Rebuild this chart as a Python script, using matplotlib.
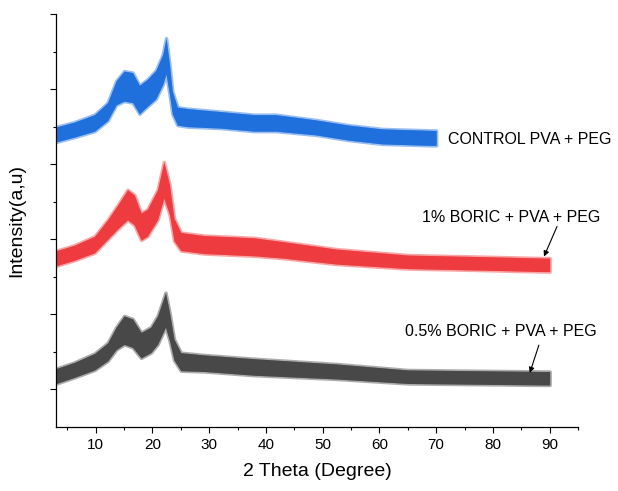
import matplotlib
matplotlib.use("Agg")
import matplotlib.pyplot as plt
from matplotlib.ticker import MultipleLocator

# XRD traces (2 theta vs intensity, offset stacked)
# centre of the noisy band + half width of the band at each point
ctrl_x      = [2.7, 6.2, 9.8, 12.1, 13.6, 15.0, 16.5, 17.7, 19.1, 20.6, 21.8, 22.4, 23.0, 23.5, 24.4, 26.2, 32.1, 37.9, 41.7, 48.8, 54.6, 60.5, 69.3, 70]
ctrl_y      = [3.89, 3.96, 4.05, 4.20, 4.45, 4.54, 4.52, 4.36, 4.45, 4.56, 4.76, 4.94, 4.63, 4.32, 4.14, 4.12, 4.09, 4.05, 4.05, 3.99, 3.92, 3.87, 3.85, 3.85]
ctrl_spread = [0.10, 0.10, 0.11, 0.12, 0.16, 0.20, 0.20, 0.19, 0.18, 0.19, 0.20, 0.24, 0.20, 0.15, 0.12, 0.12, 0.11, 0.11, 0.11, 0.10, 0.10, 0.10, 0.10, 0.10]

b1_x      = [2.7, 6.2, 9.8, 12.1, 13.9, 15.6, 16.8, 18.0, 19.1, 20.9, 22.0, 23.0, 23.8, 25.0, 29.1, 37.9, 42.9, 52.4, 65, 77.7, 89, 90]
b1_y      = [2.24, 2.32, 2.43, 2.63, 2.80, 2.96, 2.89, 2.67, 2.72, 2.96, 3.29, 3.03, 2.63, 2.47, 2.43, 2.40, 2.36, 2.27, 2.20, 2.18, 2.16, 2.16]
b1_spread = [0.10, 0.10, 0.11, 0.13, 0.16, 0.20, 0.20, 0.18, 0.18, 0.20, 0.24, 0.20, 0.15, 0.12, 0.12, 0.12, 0.11, 0.10, 0.09, 0.09, 0.09, 0.09]

b05_x      = [2.7, 6.2, 9.8, 12.1, 13.6, 15.0, 16.5, 18.0, 19.7, 20.9, 22.3, 23.0, 23.8, 25.0, 29.1, 37.9, 52.4, 65, 89, 90]
b05_y      = [0.67, 0.76, 0.87, 1.00, 1.18, 1.29, 1.25, 1.09, 1.16, 1.29, 1.56, 1.34, 1.03, 0.87, 0.85, 0.80, 0.74, 0.67, 0.65, 0.65]
b05_spread = [0.10, 0.10, 0.11, 0.12, 0.15, 0.19, 0.19, 0.17, 0.17, 0.19, 0.23, 0.19, 0.14, 0.12, 0.11, 0.11, 0.10, 0.09, 0.09, 0.09]

labels = ["CONTROL PVA + PEG", "1% BORIC + PVA + PEG", "0.5% BORIC + PVA + PEG"]
colors = ["#1f6fdc", "#ee3b3f", "#484848"]

plt.rcParams["font.family"] = ["Liberation Sans", "DejaVu Sans"]

fig = plt.figure(figsize=(6.18, 4.91), dpi=100)
ax = fig.add_axes([0.0906, 0.1303, 0.8447, 0.8412])

series = [(ctrl_x, ctrl_y, ctrl_spread), (b1_x, b1_y, b1_spread), (b05_x, b05_y, b05_spread)]
for (x, y, s), c in zip(series, colors):
    lo = [v - d for v, d in zip(y, s)]
    hi = [v + d for v, d in zip(y, s)]
    # light halo for the noise spikes, solid core for the dense part
    ax.fill_between(x, lo, hi, color=c, alpha=0.45, lw=2.5, edgecolor=c)
    ax.fill_between(x, lo, hi, color=c, lw=0)
    ax.plot(x, y, color=c, lw=0.8)

# labels + arrows
ax.text(86.5, 3.83, labels[0], ha="center", va="center", fontsize=11.5)
ax.text(83.3, 2.79, labels[1], ha="center", va="center", fontsize=11.5)
ax.text(81.4, 1.27, labels[2], ha="center", va="center", fontsize=11.5)
arrow = dict(arrowstyle="-|>", color="black", lw=0.8, mutation_scale=8, shrinkA=0, shrinkB=0)
ax.annotate("", xy=(89.0, 2.27), xytext=(91.3, 2.67), arrowprops=arrow)
ax.annotate("", xy=(86.5, 0.72), xytext=(88.1, 1.09), arrowprops=arrow)

ax.set_xlim(3, 95)
ax.set_ylim(0, 5.5)
ax.xaxis.set_major_locator(MultipleLocator(10))
ax.xaxis.set_minor_locator(MultipleLocator(5))
ax.set_yticks([0.5, 1.5, 2.5, 3.5, 4.5, 5.5])
ax.set_yticks([1, 2, 3, 4, 5], minor=True)
ax.set_yticklabels([])
ax.tick_params(which="major", length=4.5, width=0.8, labelsize=11)
ax.tick_params(which="minor", length=2, width=0.8)
for side in ["top", "right"]:
    ax.spines[side].set_visible(False)
for side in ["left", "bottom"]:
    ax.spines[side].set_linewidth(0.9)

ax.set_xlabel("2 Theta (Degree)", fontsize=14, labelpad=8)
ax.set_ylabel("Intensity(a,u)", fontsize=14, labelpad=14)

fig.savefig("out.png", dpi=100)
